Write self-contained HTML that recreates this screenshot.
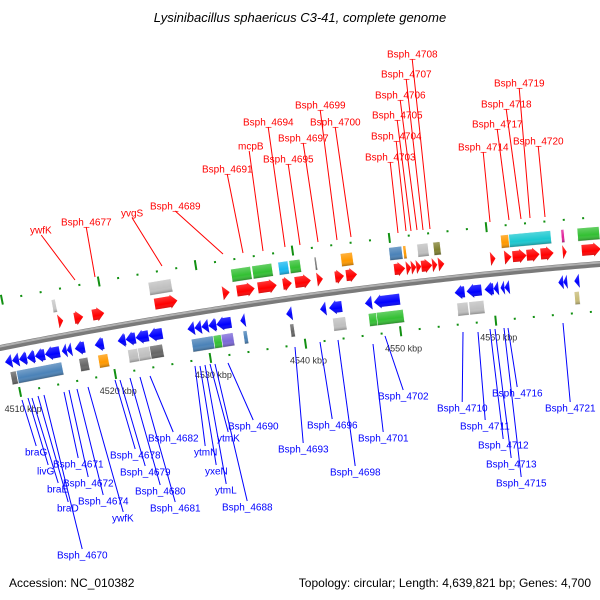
<!DOCTYPE html>
<html><head><meta charset="utf-8"><style>
html,body{margin:0;padding:0;background:#fff;}
svg{display:block;font-family:"Liberation Sans",sans-serif;}
</style></head><body>
<svg id="chart" width="600" height="600" viewBox="0 0 600 600">
<text x="300" y="22" text-anchor="middle" font-size="13" font-style="italic" fill="#000">Lysinibacillus sphaericus C3-41, complete genome</text>
<text x="9" y="587" font-size="12" fill="#000">Accession: NC_010382</text>
<text x="591" y="587" text-anchor="end" font-size="12" fill="#000">Topology: circular; Length: 4,639,821 bp; Genes: 4,700</text>
<g id="ticks"></g><g id="leaders"></g><g id="backbone"></g><g id="feats"></g><g id="labels"></g>
</svg>
<script>
const tickKbp=[4510,4512,4514,4516,4518,4520,4522,4524,4526,4528,4530,4532,4534,4536,4538,4540,4542,4544,4546,4548,4550,4552,4554,4556,4558,4560,4562,4564,4566,4568,4570];
const majorKbp=[4510,4520,4530,4540,4550,4560];
const fwdArrows=[[61,66],[77,86],[95,107],[157,180],[225,232],[239,257],[260,279],[285,294],[297,313],[319,325],[337,346],[348,359],[396,407],[408,413],[413,418],[418,423],[423,434],[434,439],[440,446],[492,497],[506,513],[514,528],[528,541],[542,555],[564,568],[583,602]];
const revArrows=[[2,9],[9,16],[16,24],[24,32],[32,42],[42,57],[59,64],[64,69],[72,82],[92,101],[115,123],[123,133],[133,146],[146,160],[185,192],[192,199],[199,206],[206,214],[214,229],[238,243],[284,290],[318,324],[327,340],[363,370],[372,398],[453,463],[465,480],[483,492],[492,497],[499,503],[503,508],[557,562],[562,566],[573,578]];
const upBoxes=[[58,62,'#c8c8c8'],[154,177,'#c0c0c0'],[236,256,'#33c033'],[257,277,'#33c033'],[283,293,'#1ab8f0'],[294,305,'#33c033'],[319,321,'#777'],[345,357,'#ff9900'],[393,406,'#4a82b8'],[407,410,'#ff9900'],[421,432,'#c0c0c0'],[437,444,'#808030'],[504,512,'#ff9900'],[512,554,'#1ac8d0'],[564,567,'#e0209a'],[580,602,'#33c033']];
const lowBoxes=[[5,11,'#666'],[11,57,'#4a82b8'],[74,83,'#666'],[93,103,'#ff9900'],[123,133,'#c0c0c0'],[133,145,'#c0c0c0'],[145,158,'#666'],[187,209,'#4a82b8'],[209,217,'#33c033'],[217,229,'#7b68d8'],[239,243,'#4a82b8'],[286,290,'#666'],[329,342,'#c0c0c0'],[365,373,'#33c033'],[373,400,'#33c033'],[454,465,'#c0c0c0'],[466,481,'#c0c0c0'],[572,577,'#c8bc78']];
const redLabels=[["ywfK",30,230,75,280],["Bsph_4677",61,222,95,277],["yvgS",121,213,162,266],["Bsph_4689",150,206,223,254],["Bsph_4691",202,169,243,253],["mcpB",238,146,263,251],["Bsph_4694",243,122,285,247],["Bsph_4695",263,159,300,245],["Bsph_4697",278,138,318,242],["Bsph_4699",295,105,337,240],["Bsph_4700",310,122,351,237],["Bsph_4703",365,157,398,233],["Bsph_4704",371,136,406,231],["Bsph_4705",372,115,411,231],["Bsph_4706",375,95,417,230],["Bsph_4707",381,74,423,230],["Bsph_4708",387,54,430,229],["Bsph_4714",458,147,490,222],["Bsph_4717",472,124,509,220],["Bsph_4718",481,104,521,219],["Bsph_4719",494,83,530,218],["Bsph_4720",513,141,545,217]];
const blueLabels=[["braG",25,452,22,400],["livG",37,471,28,398],["braE",47,489,32,398],["braD",57,508,38,396],["Bsph_4670",57,555,44,395],["Bsph_4671",53,464,64,392],["Bsph_4672",63,483,69,390],["Bsph_4674",78,501,77,389],["ywfK",112,518,88,387],["Bsph_4678",110,455,115,380],["Bsph_4679",120,472,120,380],["Bsph_4680",135,491,130,378],["Bsph_4681",150,508,140,377],["Bsph_4682",148,438,150,376],["ytmN",194,452,195,366],["yxeN",205,471,200,366],["ytmL",215,490,205,365],["ytmK",217,438,210,364],["Bsph_4688",222,507,215,364],["Bsph_4690",228,426,228,363],["Bsph_4693",278,449,295,347],["Bsph_4696",307,425,320,342],["Bsph_4698",330,472,338,340],["Bsph_4701",358,438,373,344],["Bsph_4702",378,396,385,336],["Bsph_4710",437,408,463,332],["Bsph_4711",460,426,478,332],["Bsph_4712",478,445,490,329],["Bsph_4713",486,464,495,329],["Bsph_4715",496,483,504,328],["Bsph_4716",492,393,508,328],["Bsph_4721",545,408,563,323]];

const NS='http://www.w3.org/2000/svg';
function mk(tag,attrs,parent){const e=document.createElementNS(NS,tag);for(const k in attrs)e.setAttribute(k,attrs[k]);parent.appendChild(e);return e;}
function by(x){return 348-0.2*x+0.0001*x*x;}
function slope(x){return -0.2+0.0002*x;}
function pt(t,d){const s=slope(t),n=Math.sqrt(1+s*s);return [t+s*d/n, by(t)-d/n];}
function ang(t){return Math.atan(slope(t))*180/Math.PI;}
function kbpT(k){return 107+(k-4520)*9.6;}

const G=id=>document.getElementById(id);
let dpath='';for(let x=-5;x<=605;x+=5){dpath+=(x===-5?'M':'L')+x+','+by(x).toFixed(2);}
const bb1=mk('path',{d:dpath,fill:'none',stroke:'#7a7a7a','stroke-width':6},G('backbone'));


const bb2=mk('path',{d:dpath,fill:'none',stroke:'#b0b0b0','stroke-width':2,transform:'translate(0,-1.5)'},G('backbone'));



tickKbp.forEach(k=>{
  const t=kbpT(k),major=majorKbp.includes(k);
  [47,-47].forEach(d=>{
    const p=pt(t,d),a=ang(t);
    const r=mk('rect',{x:p[0]-1,y:p[1]-(major?5:1),width:2,height:major?10:2,fill:'#129012',transform:`rotate(${a} ${p[0]} ${p[1]})`},G('ticks'));
    
    
  });
  if(major){
    const p=pt(t,-47);
    const tx=mk('text',{x:p[0]+3,y:p[1]+20,'text-anchor':'middle','font-size':9,fill:'#333'},G('ticks'));
    tx.textContent=k+' kbp';
    
    
  }
});

(function(){
  const defs=mk('defs',{},G('chart'));
  const g=mk('linearGradient',{id:'sh',x1:0,y1:0,x2:0,y2:1},defs);
  mk('stop',{offset:0,'stop-color':'#fff','stop-opacity':0.25},g);
  mk('stop',{offset:0.6,'stop-color':'#fff','stop-opacity':0},g);
  mk('stop',{offset:1,'stop-color':'#000','stop-opacity':0.3},g);
})();

function arrow(x1,x2,d,color,dir,name){
  const w=x2-x1,c=(x1+x2)/2,p=pt(c,d),a=ang(c),h=14,hl=Math.min(w,7);
  let pts;
  if(dir>0) pts=[[-w/2,-h/2+1.5],[w/2-hl,-h/2+1.5],[w/2-hl,-h/2],[w/2,0],[w/2-hl,h/2],[w/2-hl,h/2-1.5],[-w/2,h/2-1.5]];
  else pts=[[w/2,-h/2+1.5],[-w/2+hl,-h/2+1.5],[-w/2+hl,-h/2],[-w/2,0],[-w/2+hl,h/2],[-w/2+hl,h/2-1.5],[w/2,h/2-1.5]];
  if(w<=hl+0.5) pts=dir>0?[[-w/2,-h/2],[w/2,0],[-w/2,h/2]]:[[w/2,-h/2],[-w/2,0],[w/2,h/2]];
  const s=pts.map(q=>q.join(',')).join(' ');
  const gg=mk('g',{transform:`translate(${p[0]} ${p[1]}) rotate(${a})`},G('feats'));
  
  
  mk('polygon',{points:s,fill:color},gg);
  mk('polygon',{points:s,fill:'url(#sh)'},gg);
}
function box(x1,x2,d,color,name){
  const w=x2-x1,c=(x1+x2)/2,p=pt(c,d),a=ang(c),h=13;
  const gg=mk('g',{transform:`translate(${p[0]} ${p[1]}) rotate(${a})`},G('feats'));
  
  
  mk('rect',{x:-w/2,y:-h/2,width:w,height:h,fill:color,stroke:'#fff','stroke-width':0.5},gg);
  mk('rect',{x:-w/2,y:-h/2,width:w,height:h,fill:'url(#sh)'},gg);
}
fwdArrows.forEach(f=>arrow(f[0],f[1],15,'#ff0000',1,'forward-gene'));
revArrows.forEach(f=>arrow(f[0],f[1],-15,'#0000ff',-1,'reverse-gene'));
upBoxes.forEach(f=>box(f[0],f[1],31,f[2],'forward-feature'));
lowBoxes.forEach(f=>box(f[0],f[1],-32,f[2],'reverse-feature'));

redLabels.forEach(l=>{
  const cx=l[1]+(l[0].length*5.6)/2;
  const ln=mk('line',{x1:cx,y1:l[2]+5,x2:l[3],y2:l[4],stroke:'#ff0000','stroke-width':1},G('leaders'));
  
  
  const t=mk('text',{x:l[1],y:l[2]+3.5,'font-size':10,fill:'#ff0000'},G('labels'));
  t.textContent=l[0];
  
  
});
blueLabels.forEach(l=>{
  const cx=l[1]+(l[0].length*5.6)/2;
  const ln=mk('line',{x1:l[3],y1:l[4],x2:cx,y2:l[2]-6,stroke:'#0000ff','stroke-width':1},G('leaders'));
  
  
  const t=mk('text',{x:l[1],y:l[2]+3.5,'font-size':10,fill:'#0000ff'},G('labels'));
  t.textContent=l[0];
  
  
});
</script>
</body></html>
